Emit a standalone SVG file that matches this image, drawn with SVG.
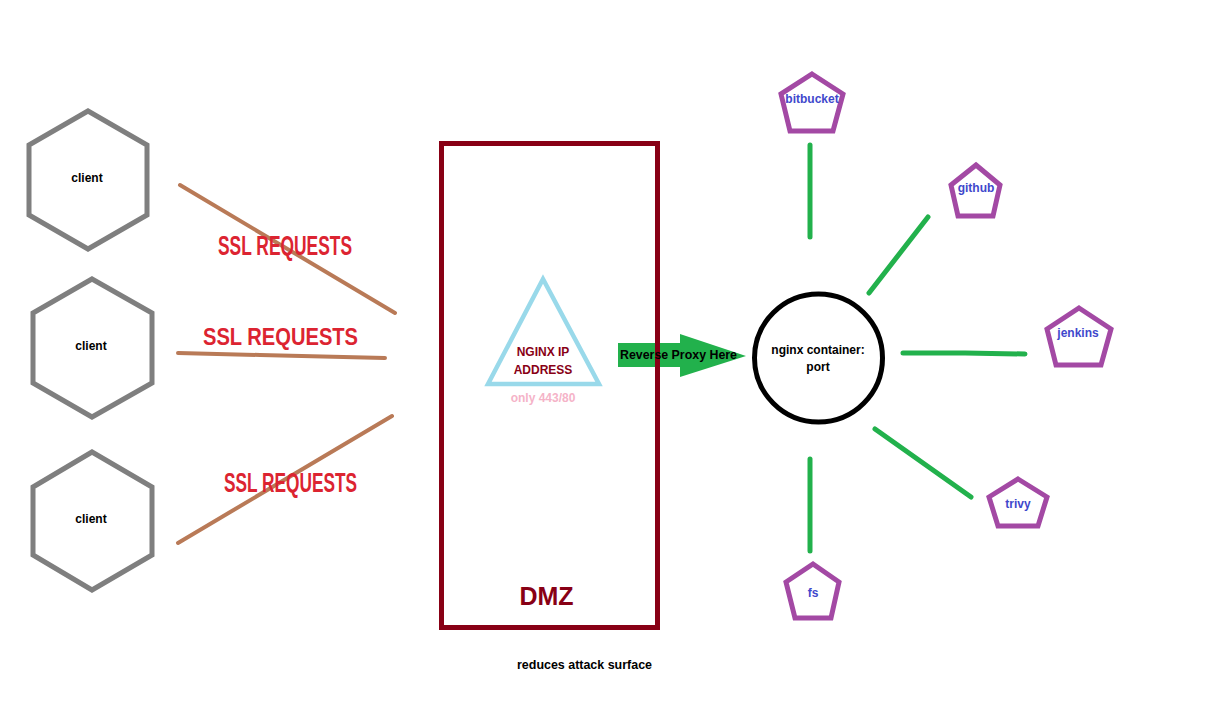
<svg xmlns="http://www.w3.org/2000/svg" width="1216" height="701" viewBox="0 0 1216 701">
<style>
.hex{fill:none;stroke:#7f7f7f;stroke-width:5}
.pent{fill:none;stroke:#a349a4;stroke-width:5}
.t{font-family:"Liberation Sans",Arial,sans-serif;font-weight:bold}
.client{font-size:12px;fill:#000;text-anchor:middle}
.svc{font-size:12px;fill:#3f48cc;text-anchor:middle}
.ssl{fill:#dc2431}
.brown{stroke:#b97a57;stroke-width:4;stroke-linecap:round;fill:none}
.green{stroke:#22b14c;stroke-width:5;stroke-linecap:round;fill:none}
</style>
<rect width="1216" height="701" fill="#fff"/>
<g id="client1">
<polygon class="hex" points="88,111 147,145 147,215 88,249 29,215 29,145"/>
<text class="t client" x="87" y="182">client</text>
</g>
<g id="client2">
<polygon class="hex" points="92,279 152,313 152,383 92,417 33,383 33,313"/>
<text class="t client" x="91" y="350">client</text>
</g>
<g id="client3">
<polygon class="hex" points="92,452 152,487 152,555 92,590 33,555 33,487"/>
<text class="t client" x="91" y="523">client</text>
</g>
<g id="connectors">
<line class="brown" x1="180" y1="185" x2="395" y2="313"/>
<polyline class="brown" points="178,353 260,355 385,358"/>
<line class="brown" x1="178" y1="543" x2="392" y2="416"/>
<line class="green" x1="810" y1="145" x2="810" y2="237"/>
<line class="green" x1="869" y1="293" x2="928" y2="217"/>
<polyline class="green" points="903,353 965,353 1025,354"/>
<line class="green" x1="875" y1="429" x2="971" y2="497"/>
<line class="green" x1="810" y1="459" x2="810" y2="551"/>
<polygon fill="#22b14c" points="618,343 680,343 680,334 746,356 680,377 680,367 618,367"/>
</g>
<g id="ssl-labels">
<text class="t ssl" x="218" y="255" font-size="27" font-weight="normal" textLength="134" lengthAdjust="spacingAndGlyphs">SSL REQUESTS</text>
<text class="t ssl" x="203" y="345" font-size="23" textLength="155" lengthAdjust="spacingAndGlyphs">SSL REQUESTS</text>
<text class="t ssl" x="224" y="492" font-size="27" font-weight="normal" textLength="133" lengthAdjust="spacingAndGlyphs">SSL REQUESTS</text>
</g>
<g id="dmz">
<rect x="441.5" y="143.5" width="216" height="484" fill="none" stroke="#880015" stroke-width="5"/>
<text class="t" x="546.5" y="605" font-size="25" fill="#880015" text-anchor="middle">DMZ</text>
</g>
<g id="proxy-label">
<text class="t" x="620" y="359" font-size="12" textLength="117" lengthAdjust="spacingAndGlyphs" fill="#000">Reverse Proxy Here</text>
</g>
<g id="nginx-ip">
<polygon points="543,279 488,384 599,384" fill="none" stroke="#99d9ea" stroke-width="4.5"/>
<text class="t" x="543" y="356" font-size="12" fill="#880015" text-anchor="middle">NGINX IP</text>
<text class="t" x="543" y="374" font-size="12" fill="#880015" text-anchor="middle">ADDRESS</text>
<text class="t" x="543" y="402" font-size="12" fill="#f5b3c8" text-anchor="middle">only 443/80</text>
</g>
<g id="nginx-container">
<circle cx="818.5" cy="358" r="64" fill="none" stroke="#000" stroke-width="5"/>
<text class="t" x="818" y="354" font-size="12" fill="#000" text-anchor="middle">nginx container:</text>
<text class="t" x="818" y="371" font-size="12" fill="#000" text-anchor="middle">port</text>
</g>
<g id="bitbucket">
<polygon class="pent" points="812,74 843,94 833,131 790,131 781,94"/>
<text class="t svc" x="812" y="103">bitbucket</text>
</g>
<g id="github">
<polygon class="pent" points="976,165 1000,185 993,216 958,216 951,185"/>
<text class="t svc" x="976" y="192">github</text>
</g>
<g id="jenkins">
<polygon class="pent" points="1079,308 1111,329 1101,365 1056,365 1047,329"/>
<text class="t svc" x="1078" y="337">jenkins</text>
</g>
<g id="trivy">
<polygon class="pent" points="1018,479 1047,497 1038,526 998,526 989,497"/>
<text class="t svc" x="1018" y="508">trivy</text>
</g>
<g id="fs">
<polygon class="pent" points="813,564 839,582 831,618 795,618 786,582"/>
<text class="t svc" x="813" y="597">fs</text>
</g>
<g id="note">
<text class="t" x="584.5" y="669" font-size="12" fill="#000" text-anchor="middle" textLength="135" lengthAdjust="spacingAndGlyphs">reduces attack surface</text>
</g>
</svg>
